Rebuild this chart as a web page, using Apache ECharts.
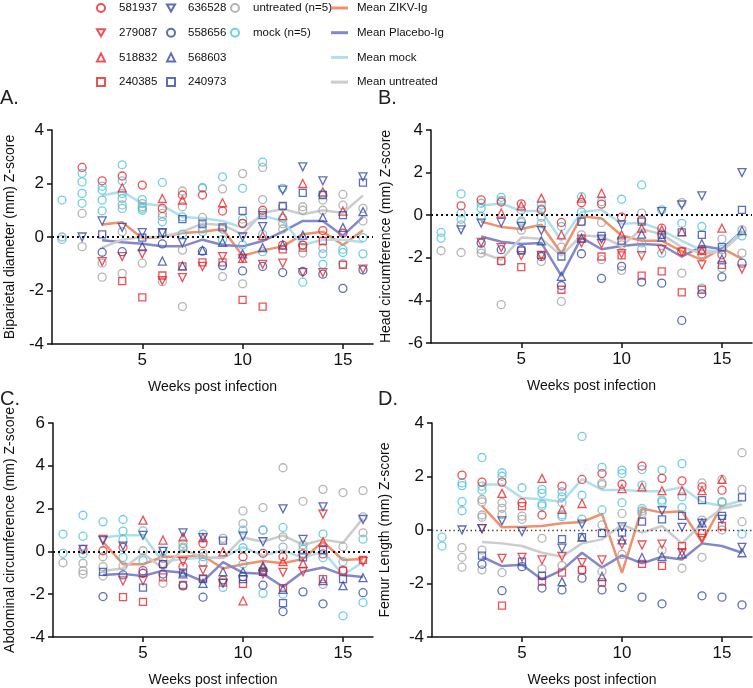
<!DOCTYPE html>
<html><head><meta charset="utf-8">
<script src="https://cdn.jsdelivr.net/npm/echarts@6/dist/echarts.min.js"></script>
<style>html,body{margin:0;padding:0;background:#fff}#c{width:753px;height:688px}</style>
</head><body><div id="c"></div>
<script>
const weeks = [1,2,3,4,5,6,7,8,9,10,11,12,13,14,15,16];
const xTicks = [5,10,15];
const animalNames = ['581937','279087','518832','240385','636528','558656','568603','240973'];
const groupNames = ['untreated (n=5)','mock (n=5)'];
const meanNames = ['Mean ZIKV-Ig','Mean Placebo-Ig','Mean mock','Mean untreated'];
const _ = null;

// ---------- Panel A: Biparietal diameter ----------
const A_581937 = [_,2.6,2.1,2.28,1.94,1.07,1.57,1.57,0.97,0.51,1.0,-0.3,-0.3,0.24,0.14,_];
const A_279087 = [_,_,-0.92,-0.73,-0.63,-1.63,-1.52,-1.1,-0.73,-0.8,-1.02,-0.98,-1.33,-1.33,_,-1.2];
const A_518832 = [_,_,_,1.84,_,1.44,1.38,_,1.28,-0.8,0.05,0.8,2.0,1.69,0.97,_];
const A_240385 = [_,_,_,-1.65,-2.26,-1.44,-1.1,-0.95,-0.95,-2.35,-2.6,-0.46,-0.4,-0.15,-1.04,_];
const A_636528 = [_,0.0,0.6,0.36,0.16,0.16,-0.21,_,_,0.0,0.39,1.75,2.62,2.1,_,2.25];
const A_558656 = [_,_,-0.57,-0.55,_,-0.26,_,-0.53,-1.07,-1.27,-1.1,-1.33,-1.29,-1.39,-1.92,-1.23];
const A_568603 = [_,_,_,_,-0.36,-0.9,-1.08,-0.5,-0.2,-0.63,-0.4,-0.3,0.07,0.73,0.36,0.95];
const A_240973 = [_,_,0.1,_,-0.02,0.16,0.67,0.5,0.36,0.98,0.82,1.16,1.65,1.57,0.82,2.03];
const A_untreated = [[0.0],[0.88,-0.36],[-0.98,-1.5],[1.2,0.2,-1.36],[1.25,1.13,-0.98],[0.88,0.76,-1.67],[1.72,1.13,-0.49,-2.6],[1.82,0.73,0.3],[1.8,0.3,-1.48],[2.37,0.5,-1.75],[2.6,1.4,0.9],[1.13,0.5,0.3],[1.13,1.0,-0.6],[1.38,1.0,-0.42],[1.59,1.19],[1.07,0.6]];
const A_mock = [[1.38,-0.09],[2.38,2.06,1.63,1.26],[1.9,1.75,1.38,0.98],[2.7,2.1,1.63,1.44,1.07],[1.4,1.07,1.0],[2.04,0.57],[0.11,0.75],[1.85,0.2],[2.25,-0.1],[1.82,0.67,-0.3],[2.8,-0.55,0.1],[1.82,0.7],[-1.69,-0.3],[1.6,-0.63,-1.02],[-0.46,-0.58,-1.0],[-0.02,-0.63]];
const A_meanZIKV = [_,_,0.47,0.55,-0.05,0.0,0.15,0.2,0.3,-0.7,-0.5,-0.35,0.1,0.2,-0.3,0.25];
const A_meanPlacebo = [_,_,-0.12,-0.2,-0.25,-0.35,-0.35,-0.1,-0.3,-0.35,-0.15,0.2,0.6,0.6,0.05,0.75];
const A_meanMock = [_,_,1.55,1.7,1.25,1.17,0.75,0.7,0.6,0.35,0.8,0.6,-0.3,-0.1,-0.1,-0.2];
const A_meanUntreated = [_,_,-0.4,-0.1,0.0,0.0,0.2,0.5,0.45,0.1,0.9,1.05,0.85,1.0,0.9,1.55];

// ---------- Panel B: Head circumference ----------
const B_581937 = [_,0.44,0.72,0.62,0.53,0.25,-0.34,0.59,0.52,-0.09,-0.22,-0.61,-1.7,-1.62,-1.86,_];
const B_279087 = [_,_,-1.28,-1.52,-1.9,-1.9,_,-1.3,-1.34,-1.81,-1.9,-1.62,-1.73,-2.33,_,-2.53];
const B_518832 = [_,_,_,0.1,0.44,0.8,-0.92,0.8,1.03,-0.92,-0.61,-0.69,-0.77,-1.66,-0.61,_];
const B_240385 = [_,_,_,-2.14,-2.44,-1.86,-3.5,-1.1,-1.94,-1.89,-2.84,-2.64,-3.62,-3.5,-2.33,_];
const B_636528 = [_,-0.69,-0.37,-0.34,-0.53,-0.72,_,_,-1.12,-0.45,_,0.17,0.48,0.91,_,2.0];
const B_558656 = [_,_,-1.31,-1.62,-1.62,-1.94,-3.3,-1.81,-2.97,-2.4,-3.14,-3.19,-4.94,-3.69,-2.9,-2.25];
const B_568603 = [_,_,_,_,_,-1.2,-2.87,-1.08,_,_,-0.89,-1.03,_,-1.34,-2.06,-0.72];
const B_240973 = [_,_,_,_,-1.66,_,-1.94,-0.3,-0.97,-1.19,-0.3,-0.92,-0.81,-0.92,-1.5,0.25];
const B_untreated = [[-1.67],[-0.45,-1.75],[-1.62,-1.78],[-2.17,-4.2],[-0.27,-0.7],[-2.17,-0.1],[-1.5,-4.05],[-0.92,-0.3],[-0.34,-2.09],[-1.39,-2.59],[0.1,-1.3],[-0.9],[0.59,-2.72],[-1.81],[-1.12],[-0.69,-1.78]];
const B_mock = [[-0.81,-1.08],[1.0,0.1,-0.19],[0.56,0.33,-0.06],[0.84,0.7],[0.25,-0.34],[0.48,0.3,-0.38],[-0.53],[0.87,0.15],[0.64],[0.75],[1.42,-1.59],[0.25,-1.78],[-0.38],[-0.53,-3.42],[-1.62,-2.48],[-0.97]];
const B_meanZIKV = [_,_,-0.3,-0.55,-0.65,-0.45,-1.8,-0.05,-0.15,-0.95,-1.2,-1.2,-1.7,-2.1,-1.55,-2.05];
const B_meanPlacebo = [_,_,-1.0,-1.25,-1.35,-1.3,-2.85,-1.05,-1.6,-1.45,-1.35,-1.4,-1.95,-1.45,-1.6,-0.75];
const B_meanMock = [_,_,0.45,0.55,0.2,0.2,-1.2,0.15,0.25,-0.4,-0.35,-0.7,-1.2,-1.65,-1.7,-0.75];
const B_meanUntreated = [_,_,-1.75,-2.1,-1.05,-1.1,-1.9,-0.95,-1.0,-1.45,-0.65,-0.9,-1.5,-1.8,-1.7,-0.85];

// ---------- Panel C: Abdominal circumference ----------
const C_581937 = [_,0.09,0.03,0.19,-0.9,-0.61,-0.71,0.37,-1.34,-0.25,-0.09,-0.25,-0.12,-0.12,-0.9,_];
const C_279087 = [_,_,0.56,-1.38,-1.37,_,-0.48,-0.87,_,_,-1.06,-0.98,-0.95,1.74,_,-0.48];
const C_518832 = [_,_,_,_,1.46,0.53,0.68,0.65,-0.02,-2.31,-0.75,-0.48,-0.56,0.45,_,_];
const C_240385 = [_,_,_,-2.14,-2.36,-1.21,-1.57,-1.26,-1.46,-1.52,-0.95,-1.72,_,-1.3,-0.9,-0.4];
const C_636528 = [_,0.09,0.5,0.25,0.75,0.0,0.87,0.64,-1.49,0.71,0.45,1.99,0.56,2.08,_,1.49];
const C_558656 = [_,_,-2.11,-1.1,-1.02,-1.06,-1.61,-2.14,_,-1.18,-1.58,-2.81,-1.89,-2.45,_,-1.93];
const C_568603 = [_,_,_,_,_,_,-1.05,-1.49,-0.95,-0.95,-0.68,-1.77,_,-1.37,-1.6,-1.23];
const C_240973 = [_,_,-0.96,_,-1.69,-0.59,-0.99,-1.3,0.5,-1.3,-0.95,-2.42,-0.28,0.06,-1.3,_];
const C_untreated = [[-0.53],[-0.56,-0.9,-1.06],[-0.25,-0.71,-1.15],[-0.68],[0.03],[-0.33,-1.49],[0.37,0.14],[-0.09,-0.25],[0.61],[1.89,1.3],[2.05,1.0],[3.91,0.68,0.2],[2.34,0.3],[2.9,-1.54],[2.75,0.22],[2.84,1.61,0.87]];
const C_mock = [[0.81,-0.09],[1.69,0.71,-0.12],[1.38],[1.49,0.95,0.56,-0.28],[0.96,-0.43],[0.0],[0.2],[0.81,-0.5],[-1.68],[0.99,0.17,-0.59],[0.99,-1.96],[1.12,-2.0],[0.1],[0.81,-0.3],[-0.48,-3.01],[0.57,-2.39]];
const C_meanZIKV = [_,_,0.45,-0.6,-0.6,-0.25,-0.25,-0.2,-0.8,-0.6,-0.45,-0.55,-0.35,0.45,-0.4,-0.35];
const C_meanPlacebo = [_,_,-1.1,-1.05,-1.15,-0.9,-1.0,-1.4,-0.5,-1.0,-1.05,-1.65,-0.95,-0.75,-1.1,-1.2];
const C_meanMock = [_,_,0.65,0.75,0.75,-0.5,-0.35,-0.3,-0.3,0.2,-0.2,0.05,-0.3,0.0,-1.1,-0.5];
const C_meanUntreated = [_,_,-0.9,-0.8,-0.1,-0.8,0.1,-0.3,-0.3,0.65,0.45,0.75,0.3,0.55,0.4,1.55];

// ---------- Panel D: Femur length ----------
const D_581937 = [_,2.05,1.79,1.79,1.02,0.56,1.64,1.89,2.11,1.71,2.39,1.93,1.84,1.61,1.49,_];
const D_279087 = [_,_,0.05,-1.06,-1.02,-1.12,-0.99,-1.22,-1.12,-0.53,-0.56,-0.53,-0.85,-0.31,_,_];
const D_518832 = [_,_,_,1.37,_,1.93,0.77,0.99,_,1.55,1.61,1.47,1.47,1.47,1.89,_];
const D_240385 = [_,_,_,-2.83,0.89,-1.93,-1.59,-1.49,-1.96,_,-1.27,-1.34,-0.6,-0.12,0.15,_];
const D_636528 = [_,0.0,0.05,0.34,-0.06,_,-0.68,0.22,_,0.12,_,0.72,0.1,0.25,0.4,-0.65];
const D_558656 = [_,_,-1.28,-2.27,-1.37,-2.17,-2.24,-1.8,-2.24,-2.15,-2.51,-2.76,_,-2.46,-2.51,-2.8];
const D_568603 = [_,_,_,_,_,_,-1.93,-0.27,-1.74,-0.37,-1.03,-0.99,-0.89,0.27,_,-0.85];
const D_240973 = [_,_,-0.96,_,-1.18,-1.71,-0.34,-0.27,-0.12,-0.1,0.31,0.4,0.53,1.12,0.53,1.22];
const D_untreated = [[],[-0.66,-1.02,-1.39],[1.14,1.05,0.56,0.48,-0.75,-1.49],[1.02,0.81,0.58,-1.59],[0.52,0.4],[-0.31,-1.45],[1.02,-1.33],[-1.49],[1.76,1.7,0.19,-1.55],[0.62,-0.91],[0.71,0.62],[-0.75],[-1.43],[1.76,0.37,-1.02],[1.89,1.02,0.0],[2.89,1.52,0.31]];
const D_mock = [[-0.27,-0.6],[1.76,1.66,1.06,0.72],[2.71,1.64,1.49],[2.14,2.01],[1.58],[1.52,1.37,0.97,0.9],[1.43,1.24,0.56,0.5],[3.5,1.3,0.41],[2.34,0.75],[2.24,2.11,1.02],[2.26,1.68,0.8],[2.24,1.12,1.05],[2.48,1.24,0.84],[],[1.06],[-0.15]];
const D_meanZIKV = [_,_,0.9,0.1,0.12,0.15,0.25,0.3,0.6,-1.6,0.8,0.65,0.7,-0.45,0.95,_];
const D_meanPlacebo = [_,_,-1.0,-1.35,-1.3,-1.85,-1.5,-0.85,-1.4,-0.95,-1.25,-1.0,-1.1,-0.5,-0.6,-0.85];
const D_meanMock = [_,_,1.7,1.7,1.2,1.15,1.05,1.9,1.5,1.5,1.45,1.45,1.6,1.05,0.9,1.1];
const D_meanUntreated = [_,_,-0.45,-0.5,-0.6,-0.85,-1.0,-0.5,-0.35,0.2,-0.1,0.15,-0.5,0.25,0.8,0.95];

// ---------- styles ----------
const RED = '#e8262b', BLUE = '#3448a8', GREY = '#a3a3a3', CYAN = '#4cc3dc';
const LINE_COLORS = ['#f0906c', '#8587cb', '#b0dfeb', '#cccccc'];
const DOWN_TRI = 'path://M0,0L10,0L5,8.66Z';
const animalStyle = [
  {color: RED, symbol: 'circle', rot: 0, size: 8},
  {color: RED, symbol: 'triangle', rot: 180, size: 8},
  {color: RED, symbol: 'triangle', rot: 0, size: 8},
  {color: RED, symbol: 'rect', rot: 0, size: 7},
  {color: BLUE, symbol: 'triangle', rot: 180, size: 8},
  {color: BLUE, symbol: 'circle', rot: 0, size: 8},
  {color: BLUE, symbol: 'triangle', rot: 0, size: 8},
  {color: BLUE, symbol: 'rect', rot: 0, size: 7}
];
const FONT = "'Liberation Sans', Arial, sans-serif";

const panels = [
  {label:'A.', yName:'Biparietal diameter (mm) Z-score', min:-4, max:4, grid:{left:52,top:130,width:321,height:214}, nameGap:35, labelPos:[0,88], zeroW:2,
   animals:[A_581937,A_279087,A_518832,A_240385,A_636528,A_558656,A_568603,A_240973], unt:A_untreated, mock:A_mock,
   means:[A_meanZIKV,A_meanPlacebo,A_meanMock,A_meanUntreated]},
  {label:'B.', yName:'Head circumference (mm) Z-score', min:-6, max:4, grid:{left:431,top:130,width:321,height:213}, nameGap:38, labelPos:[378,88], zeroW:2,
   animals:[B_581937,B_279087,B_518832,B_240385,B_636528,B_558656,B_568603,B_240973], unt:B_untreated, mock:B_mock,
   means:[B_meanZIKV,B_meanPlacebo,B_meanMock,B_meanUntreated]},
  {label:'C.', yName:'Abdominal circumference (mm) Z-score', min:-4, max:6, grid:{left:53,top:423,width:320,height:214}, nameGap:36, labelPos:[0,389], zeroW:2,
   animals:[C_581937,C_279087,C_518832,C_240385,C_636528,C_558656,C_568603,C_240973], unt:C_untreated, mock:C_mock,
   means:[C_meanZIKV,C_meanPlacebo,C_meanMock,C_meanUntreated]},
  {label:'D.', yName:'Femur Length (mm) Z-score', min:-4, max:4, grid:{left:432,top:423,width:320,height:214}, nameGap:40, labelPos:[378,389], zeroW:1.3,
   animals:[D_581937,D_279087,D_518832,D_240385,D_636528,D_558656,D_568603,D_240973], unt:D_untreated, mock:D_mock,
   means:[D_meanZIKV,D_meanPlacebo,D_meanMock,D_meanUntreated]}
];

function pts(arr){ const o=[]; arr.forEach((v,i)=>{ if(v!=null) o.push([weeks[i],v]); }); return o; }
function grp(arr){ const o=[]; arr.forEach((vals,i)=>vals.forEach(v=>o.push([weeks[i],v]))); return o; }

const grids=[], xAxes=[], yAxes=[], series=[], titles=[];
panels.forEach((p,k)=>{
  grids.push(Object.assign({}, p.grid));
  titles.push({text:p.label, left:p.labelPos[0], top:p.labelPos[1], padding:0, textStyle:{fontSize:20, fontWeight:'normal', color:'#222', fontFamily:FONT}});
  xAxes.push({gridIndex:k, type:'value', min:0.5, max:16.5,
    axisLine:{show:true, onZero:false, lineStyle:{color:'#111', width:1.5}},
    axisTick:{show:true, customValues:xTicks, length:5, lineStyle:{color:'#111', width:1.5}},
    axisLabel:{customValues:xTicks, fontSize:17, color:'#111', margin:8, fontFamily:FONT},
    splitLine:{show:false},
    name:'Weeks post infection', nameLocation:'middle', nameGap:36,
    nameTextStyle:{fontSize:14, color:'#111', fontFamily:FONT}});
  yAxes.push({gridIndex:k, type:'value', min:p.min, max:p.max, interval:2,
    axisLine:{show:true, onZero:false, lineStyle:{color:'#111', width:1.5}},
    axisTick:{show:true, length:5, lineStyle:{color:'#111', width:1.5}},
    axisLabel:{fontSize:17, color:'#111', margin:8, fontFamily:FONT},
    splitLine:{show:false},
    name:p.yName, nameLocation:'middle', nameGap:p.nameGap,
    nameTextStyle:{fontSize:14, color:'#111', fontFamily:FONT}});
  series.push({type:'line', name:'zero'+k, xAxisIndex:k, yAxisIndex:k, data:[], silent:true, z:1,
    markLine:{silent:true, symbol:'none', label:{show:false}, animation:false,
      lineStyle:{color:p.zeroW<2?'#333':'#111', type:[p.zeroW, 3], width:p.zeroW}, data:[{yAxis:0}]}});
  p.means.forEach((m,j)=>{
    series.push({type:'line', name:meanNames[j], xAxisIndex:k, yAxisIndex:k, data:pts(m), symbol:'none', showSymbol:false,
      lineStyle:{color:LINE_COLORS[j], width:2.5}, itemStyle:{color:LINE_COLORS[j]}, z:2, animation:false});
  });
  [[p.unt, GREY, 0], [p.mock, CYAN, 1]].forEach(([g,c,j])=>{
    series.push({type:'scatter', name:groupNames[j], xAxisIndex:k, yAxisIndex:k, data:grp(g), symbol:'circle', symbolSize:8,
      symbolKeepAspect:true,
      itemStyle:{color:'rgba(255,255,255,0)', borderColor:c, borderWidth:1.3}, z:3, animation:false});
  });
  p.animals.forEach((a,j)=>{
    const s=animalStyle[j];
    series.push({type:'scatter', name:animalNames[j], xAxisIndex:k, yAxisIndex:k, data:pts(a), symbol:s.symbol, symbolSize:s.size, symbolRotate:s.rot,
      symbolKeepAspect:true,
      itemStyle:{color:'rgba(255,255,255,0)', borderColor:s.color, borderWidth:1.3}, z:4, animation:false});
  });
});

function legItems(names, offset){
  return names.map((n,i)=>{
    const s = animalStyle[offset+i];
    return s.rot ? {name:n, icon:DOWN_TRI} : {name:n};
  });
}
const legText = (pad)=>({fontSize:11.5, lineHeight:14, color:'#111', fontFamily:FONT, padding:[0,0,0,pad]});
const legBase = {orient:'vertical', top:1, padding:0, itemGap:10.7, selectedMode:false, itemWidth:8, itemHeight:8, symbolRotate:0};
const legends = [
  Object.assign({}, legBase, {left:96, data:legItems(animalNames.slice(0,4),0), textStyle:legText(9)}),
  Object.assign({}, legBase, {left:166, data:legItems(animalNames.slice(4),4), textStyle:legText(8)}),
  Object.assign({}, legBase, {left:230, data:groupNames, textStyle:legText(9)}),
  Object.assign({}, legBase, {left:331, data:meanNames, icon:'rect', itemWidth:17, itemHeight:3, textStyle:legText(4)})
];

const chart = echarts.init(document.getElementById('c'), null, {renderer:'canvas'});
chart.setOption({
  animation:false, backgroundColor:'#fff',
  title:titles, legend:legends, grid:grids, xAxis:xAxes, yAxis:yAxes, series:series
});
</script></body></html>
